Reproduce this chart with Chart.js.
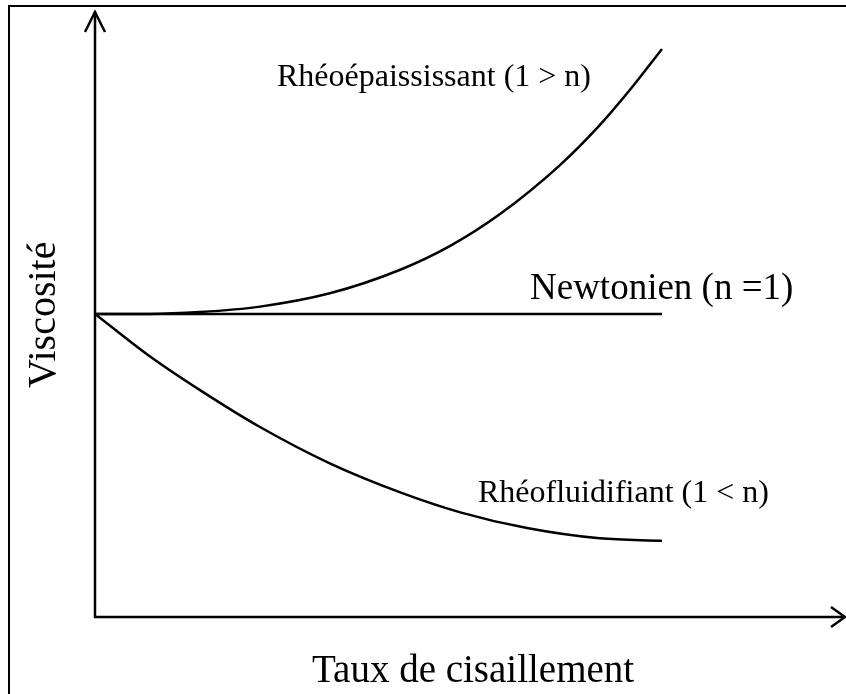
<!DOCTYPE html>
<html>
<head>
<meta charset="utf-8">
<script src="https://cdn.jsdelivr.net/npm/chart.js@4.4.1/dist/chart.umd.min.js"></script>
<style>
  html, body { margin: 0; padding: 0; background: #fff; }
  #wrap { width: 846px; height: 694px; position: relative; }
</style>
</head>
<body>
<div id="wrap"><canvas id="c"></canvas></div>
<script>
// ---- Data (arbitrary units) ----
const seriesNames = ["Rhéoépaississant (1 > n)", "Newtonien (n =1)", "Rhéofluidifiant (1 < n)"];
const axisTitleX = "Taux de cisaillement";
const axisTitleY = "Viscosité";

const thickX = [0, 0.73, 1.4, 2.2, 3.13, 4.07, 4.73, 5.4, 6.2, 6.73, 7.13, 7.56];
const thickY = [5.01, 5.01, 5.04, 5.13, 5.35, 5.74, 6.13, 6.66, 7.47, 8.13, 8.71, 9.39];

const newtX = [0, 7.56];
const newtY = [5.01, 5.01];

const thinX = [0, 0.73, 1.4, 2.2, 3.13, 4.07, 4.87, 5.76, 6.73, 7.56];
const thinY = [5.01, 4.31, 3.75, 3.14, 2.54, 2.06, 1.73, 1.47, 1.30, 1.26];

const toPts = (xs, ys) => xs.map((x, i) => ({ x: x, y: ys[i] }));

// ---- Drawing plugin: frame, axes with arrows, texts ----
const decor = {
  id: 'decor',
  afterDatasetsDraw(chart) {
    const ctx = chart.ctx;
    const xs = chart.scales.x, ys = chart.scales.y;
    const x0 = xs.getPixelForValue(0), x1 = xs.getPixelForValue(10);
    const y0 = ys.getPixelForValue(0), y1 = ys.getPixelForValue(10);
    ctx.save();
    ctx.strokeStyle = '#000';
    ctx.fillStyle = '#000';
    ctx.lineCap = 'butt';
    // frame
    ctx.lineWidth = 2;
    ctx.beginPath();
    ctx.moveTo(9, chart.height + 5);
    ctx.lineTo(9, 6);
    ctx.lineTo(chart.width + 5, 6);
    ctx.stroke();
    // axes
    ctx.lineWidth = 2.5;
    ctx.beginPath();
    ctx.moveTo(x0, y0 + 1);
    ctx.lineTo(x0, y1);
    ctx.moveTo(x0 - 1, y0);
    ctx.lineTo(x1, y0);
    ctx.stroke();
    // arrowheads
    ctx.lineWidth = 2.5;
    ctx.lineJoin = 'miter';
    ctx.beginPath();
    ctx.moveTo(x0 - 10, y1 + 20);
    ctx.lineTo(x0, y1);
    ctx.lineTo(x0 + 10, y1 + 20);
    ctx.moveTo(x1 - 14, y0 - 10);
    ctx.lineTo(x1, y0);
    ctx.lineTo(x1 - 14, y0 + 10);
    ctx.stroke();
    // texts
    const F = '"Liberation Serif", "Times New Roman", serif';
    ctx.textAlign = 'left';
    ctx.textBaseline = 'alphabetic';
    ctx.font = '32px ' + F;
    ctx.fillText(seriesNames[0], 277, 86);
    ctx.font = '37px ' + F;
    ctx.fillText(seriesNames[1], 530, 299);
    ctx.font = '32px ' + F;
    ctx.fillText(seriesNames[2], 478, 502);
    ctx.font = '39px ' + F;
    ctx.fillText(axisTitleX, 312, 682);
    ctx.save();
    ctx.translate(55, 388);
    ctx.rotate(-Math.PI / 2);
    ctx.font = '40px ' + F;
    ctx.fillText(axisTitleY, 0, 0);
    ctx.restore();
    ctx.restore();
  }
};

const lineStyle = {
  borderColor: '#000',
  borderWidth: 2.5,
  pointRadius: 0,
  fill: false,
  cubicInterpolationMode: 'monotone'
};

new Chart(document.getElementById('c'), {
  type: 'line',
  data: {
    datasets: [
      Object.assign({ label: seriesNames[0], data: toPts(thickX, thickY) }, lineStyle),
      Object.assign({ label: seriesNames[1], data: toPts(newtX, newtY) }, lineStyle),
      Object.assign({ label: seriesNames[2], data: toPts(thinX, thinY) }, lineStyle)
    ]
  },
  options: {
    responsive: true,
    maintainAspectRatio: false,
    animation: false,
    layout: { padding: { left: 95, right: 1, top: 12, bottom: 77 } },
    scales: {
      x: { type: 'linear', min: 0, max: 10, display: false },
      y: { type: 'linear', min: 0, max: 10, display: false }
    },
    plugins: {
      legend: { display: false },
      tooltip: { enabled: false }
    }
  },
  plugins: [decor]
});
</script>
</body>
</html>
